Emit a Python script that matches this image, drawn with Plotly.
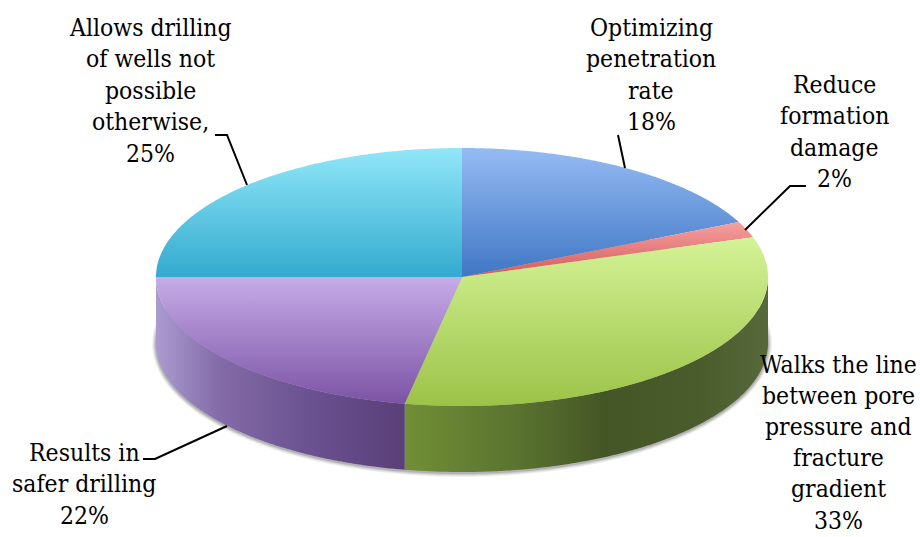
import numpy as np
import plotly.graph_objects as go

# --- data ---
categories = [["Optimizing", "penetration", "rate"], ["Reduce", "formation", "damage"],
              ["Walks the line", "between pore", "pressure and", "fracture", "gradient"],
              ["Results in", "safer drilling"], ["Allows drilling", "of wells not", "possible", "otherwise,"]]
shares = [18, 2, 33, 22, 25]

# --- styles ---
top_colors = [("#95bbf4", "#3f77c4"), ("#f6a0a0", "#d55a5a"), ("#d4f396", "#9cc348"),
              ("#c6ace8", "#7c53a5"), ("#91e7f8", "#33aacf")]
side_scales = [None, None,
               [[0, "#718f36"], [0.3, "#5b7430"], [0.55, "#445626"], [0.8, "#4a5c2b"], [1, "#57693b"]],
               [[0, "#ab9bd1"], [0.25, "#846ca8"], [0.6, "#6b5291"], [1, "#5a3f78"]],
               None]
label_first_line = [(651, 27), (834, 84), (838, 364), (84, 452), (150, 27)]
label_pitch = [31.5, 31.5, 31.2, 31.5, 31.5]
leaders = [[(618, 135), (625, 168)],
           [(806, 186), (790, 186), (745, 230)],
           [(143, 459), (155, 459), (227, 426)],
           [(215, 135), (227, 135), (247, 185)]]
FONT = "DejaVu Serif Condensed, DejaVu Serif"
FSIZE = 24.5
CX, CY, RX, RY, DEPTH = 462, 277, 306, 129, 66


def pt(deg, dy=0, grow=0):
    r = np.radians(deg)
    return CX + (RX + grow) * np.sin(r), CY + dy - (RY + grow) * np.cos(r)


fig = go.Figure()

# soft shadow under the body
for g, a in [(4, 0.05), (3, 0.07), (2, 0.09), (1, 0.12)]:
    x, y = pt(np.linspace(0, 360, 361), DEPTH + 1, g)
    fig.add_trace(go.Scatter(x=x, y=y, fill="toself", mode="none",
                             fillcolor=f"rgba(0,0,0,{a})", hoverinfo="skip"))

edges = np.cumsum([0] + shares) * 3.6

# side walls: only the front half of the disc is visible
for i, s in enumerate(side_scales):
    a, b = max(edges[i], 90), min(edges[i + 1], 270)
    if s is None or a >= b:
        continue
    t = np.linspace(a, b, 200)
    xt, yt = pt(t)
    xb, yb = pt(t[::-1], DEPTH)
    fig.add_trace(go.Scatter(x=np.r_[xt, xb], y=np.r_[yt, yb], mode="none", fill="toself",
                             fillgradient=dict(type="horizontal", colorscale=s),
                             hoverinfo="skip"))

# top faces (the gradient runs along the reversed y axis, so bottom colour comes first)
for i, (c0, c1) in enumerate(top_colors):
    t = np.linspace(edges[i], edges[i + 1], 200)
    x, y = pt(t)
    fig.add_trace(go.Scatter(x=np.r_[CX, x, CX], y=np.r_[CY, y, CY], mode="none", fill="toself",
                             fillgradient=dict(type="vertical", colorscale=[[0, c1], [1, c0]]),
                             hoverinfo="skip"))

# leader lines
for seg in leaders:
    fig.add_trace(go.Scatter(x=[p[0] for p in seg], y=[p[1] for p in seg], mode="lines",
                             line=dict(color="#000000", width=2), hoverinfo="skip"))

# labels
for cat, v, (lx, ly), pitch in zip(categories, shares, label_first_line, label_pitch):
    for k, line in enumerate(cat + [f"{v}%"]):
        fig.add_annotation(x=lx, y=ly + k * pitch, text=line, showarrow=False, align="center",
                           xanchor="center", yanchor="middle",
                           font=dict(family=FONT, size=FSIZE, color="#000000"))

fig.update_xaxes(range=[0, 920], visible=False, fixedrange=True)
fig.update_yaxes(range=[537, 0], visible=False, fixedrange=True)
fig.update_layout(width=920, height=537, margin=dict(l=0, r=0, t=0, b=0), showlegend=False,
                  paper_bgcolor="#ffffff", plot_bgcolor="#ffffff")
fig.write_html("out.html", config={"displayModeBar": False},
               post_script="document.body.style.margin='0';document.body.style.overflow='hidden';")
